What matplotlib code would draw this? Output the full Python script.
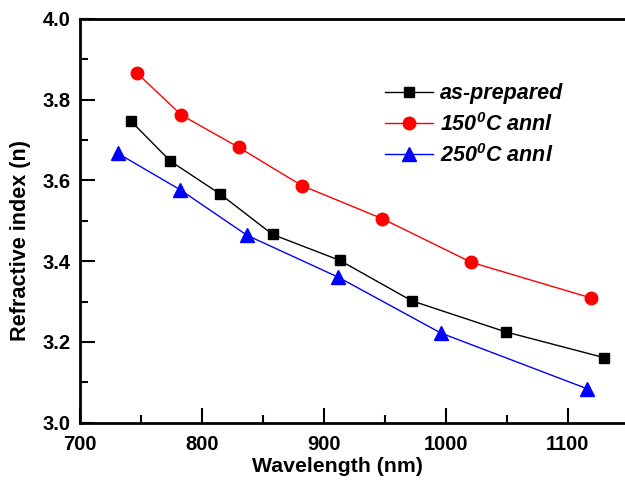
import matplotlib.pyplot as plt
from matplotlib.ticker import MultipleLocator

# -------------------- DATOS --------------------
wl_asprep = [742, 774, 815, 858, 913, 972, 1049, 1130]
n_asprep = [3.746, 3.648, 3.566, 3.466, 3.402, 3.302, 3.225, 3.161]

wl_150 = [747, 783, 830, 882, 948, 1021, 1119]
n_150 = [3.865, 3.762, 3.682, 3.587, 3.505, 3.397, 3.309]

wl_250 = [731, 782, 837, 912, 996, 1116]
n_250 = [3.667, 3.577, 3.464, 3.360, 3.222, 3.084]

labels = ["as-prepared", "150$^{0}$C annl", "250$^{0}$C annl"]

# -------------------- ESTILO --------------------
plt.rcParams['font.family'] = ['Liberation Sans', 'DejaVu Sans']
plt.rcParams['font.weight'] = 'bold'
plt.rcParams['mathtext.fontset'] = 'custom'
plt.rcParams['mathtext.rm'] = 'Liberation Sans:italic:bold'
plt.rcParams['mathtext.it'] = 'Liberation Sans:italic:bold'
plt.rcParams['mathtext.bf'] = 'Liberation Sans:italic:bold'

fig = plt.figure(figsize=(6.25, 4.82), dpi=100)
ax = fig.add_axes([0.128, 0.123, 0.872, 0.838])

ax.plot(wl_asprep, n_asprep, color='black', marker='s', markersize=7.5, lw=1, label=labels[0])
ax.plot(wl_150, n_150, color='red', marker='o', markersize=9, lw=1, label=labels[1])
ax.plot(wl_250, n_250, color='blue', marker='^', markersize=9.5, lw=1, label=labels[2])

ax.set_xlim(700, 1147)
ax.set_ylim(3.0, 4.0)
ax.xaxis.set_major_locator(MultipleLocator(100))
ax.xaxis.set_minor_locator(MultipleLocator(50))
ax.yaxis.set_major_locator(MultipleLocator(0.2))
ax.yaxis.set_minor_locator(MultipleLocator(0.1))
ax.yaxis.set_major_formatter(plt.FormatStrFormatter('%.1f'))

ax.tick_params(which='major', direction='in', length=11, width=1.5, labelsize=14.5, pad=7)
ax.tick_params(axis='x', which='major', pad=9)
ax.tick_params(which='minor', direction='in', length=6, width=1.5)
ax.tick_params(top=False, right=False, which='both')
for s in ['left', 'bottom', 'top']:
    ax.spines[s].set_linewidth(2)
ax.spines['right'].set_visible(False)

for lab in ax.get_xticklabels() + ax.get_yticklabels():
    lab.set_fontweight('bold')

ax.set_xlabel("Wavelength (nm)", fontsize=15.3, fontweight='bold')
ax.set_ylabel("Refractive index (n)", fontsize=15.6, fontweight='bold')
ax.xaxis.set_label_coords(0.4716, -0.085)
ax.yaxis.set_label_coords(-0.09, 0.45)

leg = ax.legend(loc='upper left', bbox_to_anchor=(0.56, 0.84), frameon=False,
                borderaxespad=0, borderpad=0,
                handlelength=2.2, handletextpad=0.35, labelspacing=0.38,
                prop={'size': 15.5, 'weight': 'bold', 'style': 'italic'})

fig.savefig("out.png", dpi=100)
